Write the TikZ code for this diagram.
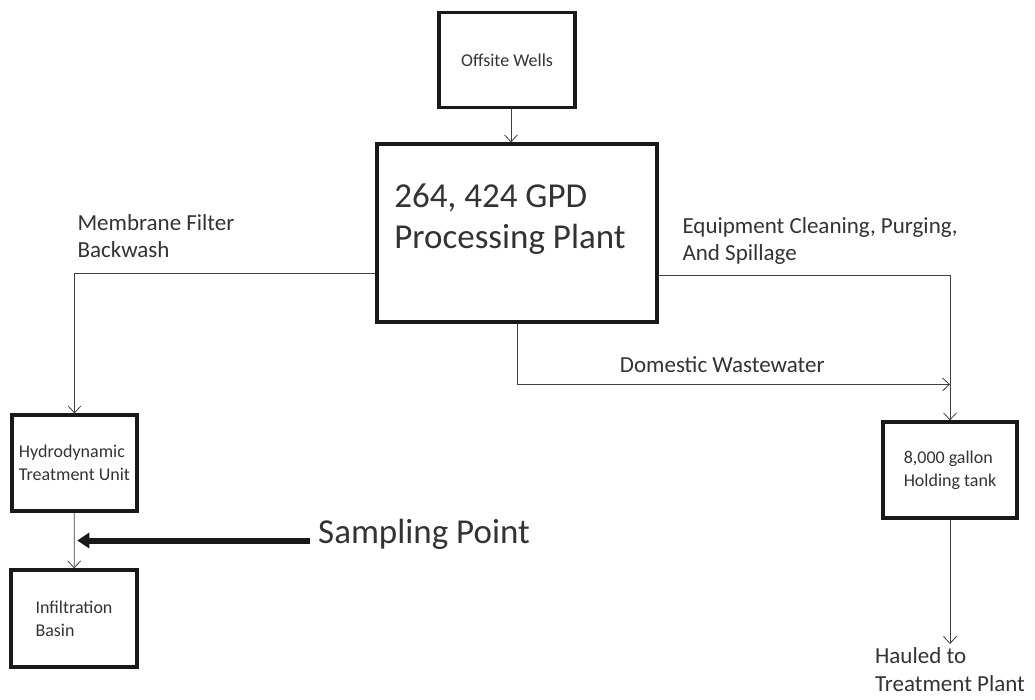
\documentclass[tikz,border=0pt]{standalone}
\usepackage{fontspec}
\setmainfont{Carlito}
\usetikzlibrary{arrows.meta, positioning, calc}

\begin{document}
\begin{tikzpicture}[
    x=1pt, y=-1pt,
    every node/.style={text=black!80},
    box/.style={rectangle, draw=black!90, line width=3.2pt, font=\fontsize{18}{23}\selectfont, align=left},
    lbl/.style={font=\fontsize{23}{27.5}\selectfont, align=left},
    big/.style={font=\fontsize{35}{41}\selectfont, align=left},
    arrow/.style={-{Straight Barb[length=7pt, width=13pt]}, line width=0.8pt, draw=black!75},
    samplearrow/.style={-{Triangle[length=12pt, width=15pt]}, line width=6pt, draw=black!90}
]
    \fill[white] (0,0) rectangle (1035,700);

    % boxes
    \node[box, minimum width=136pt, minimum height=95pt] (wells) at (507,60) {Offsite Wells};
    \node[box, big, minimum width=280pt, minimum height=178pt, text depth=34pt] (plant) at (517,233) {264, 424 GPD\\Processing Plant\hspace*{14pt}};
    \node[box, minimum width=125pt, minimum height=96pt] (hydro) at (74.5,463) {Hydrodynamic\\Treatment Unit};
    \node[box, minimum width=126pt, minimum height=97pt] (infil) at (74,618.5) {Infiltration\\Basin};
    \node[box, minimum width=134pt, minimum height=96pt] (tank) at (950,470) {8,000 gallon\\Holding tank};

    % labels
    \node[lbl, anchor=west] (membrane) at (74,236) {Membrane Filter\\Backwash};
    \node[lbl, anchor=west] (equip) at (679,241) {Equipment Cleaning, Purging,\\And Spillage};
    \node[big, anchor=west, inner sep=8pt] (sample) at (310,534) {Sampling Point};
    \node[lbl, anchor=north] (hauled) at (950,644) {Hauled to\\Treatment Plant};

    \coordinate (join) at ([yshift=36pt]tank.north);
    \coordinate (tap) at ($(hydro.south)!0.5!(infil.north)$);

    % flows
    \draw[arrow] ([xshift=4pt]wells.south) -- ([xshift=4pt]wells.south |- plant.north);
    \draw[arrow] ([yshift=-40pt]plant.west) -| (hydro.north);
    \draw[arrow] ([yshift=-42pt]plant.east) -| (tank.north);
    \draw[arrow] (plant.south) |- node[lbl, pos=0.737, above=8pt] {Domestic Wastewater} (join);
    \draw[arrow] (hydro) -- (infil);
    \draw[arrow] (tank) -- (hauled);
    \draw[samplearrow] (sample.west |- tap) -- ([xshift=3pt]tap);
\end{tikzpicture}
\end{document}
